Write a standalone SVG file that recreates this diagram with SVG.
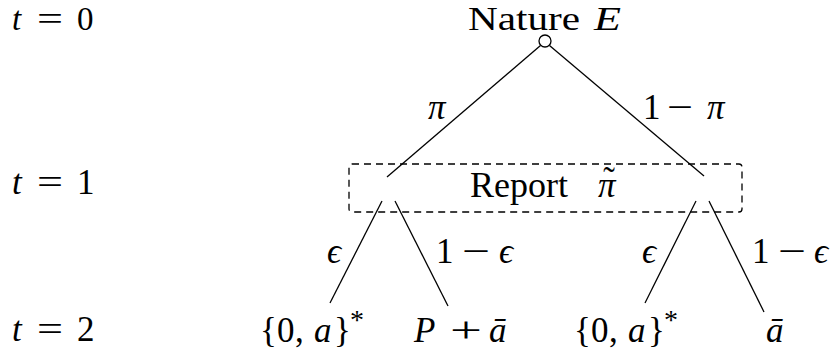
<svg xmlns="http://www.w3.org/2000/svg" width="832" height="360" viewBox="0 0 832 360">
<style>
text{font-family:"Liberation Serif","DejaVu Serif",serif;font-size:35px;fill:#000}
.top{font-size:33px}
.i{font-style:italic}
.e{stroke:#000;stroke-width:1.3;fill:none}
</style>
<rect width="832" height="360" fill="#fff"/>
<g id="time-labels">
<text y="30" class="top"><tspan x="12" class="i">t</tspan><tspan x="37" textLength="26" lengthAdjust="spacingAndGlyphs">=</tspan><tspan x="77">0</tspan></text>
<text y="194"><tspan x="12" class="i">t</tspan><tspan x="37" textLength="26" lengthAdjust="spacingAndGlyphs">=</tspan><tspan x="77">1</tspan></text>
<text y="341"><tspan x="12" class="i">t</tspan><tspan x="37" textLength="26" lengthAdjust="spacingAndGlyphs">=</tspan><tspan x="77">2</tspan></text>
</g>
<g id="connectors">
<line class="e" x1="540.5" y1="45.5" x2="387" y2="177"/>
<line class="e" x1="549.5" y1="45.5" x2="704" y2="176"/>
<line class="e" x1="382" y1="201" x2="330" y2="303"/>
<line class="e" x1="395" y1="201" x2="448" y2="306"/>
<line class="e" x1="696" y1="201" x2="645" y2="303"/>
<line class="e" x1="709" y1="201" x2="764" y2="312"/>
</g>
<g id="nature">
<circle cx="545" cy="41" r="6" fill="#fff" stroke="#000" stroke-width="1.3"/>
<text y="30" class="top"><tspan x="468" textLength="112" lengthAdjust="spacingAndGlyphs">Nature</tspan><tspan x="594" class="i" textLength="27" lengthAdjust="spacingAndGlyphs">E</tspan></text>
</g>
<g id="report">
<rect x="349" y="164" width="393" height="48" rx="3" fill="none" stroke="#000" stroke-width="1.3" stroke-dasharray="7,5"/>
<text y="197"><tspan x="470" textLength="98" lengthAdjust="spacingAndGlyphs">Report</tspan><tspan x="598" class="i">π</tspan></text>
<text x="609" y="192" text-anchor="middle" font-size="30">˜</text>
</g>
<g id="edge-labels">
<text x="428" y="119" class="i">π</text>
<text y="119"><tspan x="643">1</tspan><tspan x="667" textLength="26" lengthAdjust="spacingAndGlyphs">−</tspan><tspan x="707" class="i">π</tspan></text>
<text x="327" y="263" class="i">ϵ</text>
<text y="263"><tspan x="436">1</tspan><tspan x="462" textLength="28" lengthAdjust="spacingAndGlyphs">−</tspan><tspan x="499" class="i">ϵ</tspan></text>
<text x="642" y="263" class="i">ϵ</text>
<text y="263"><tspan x="752">1</tspan><tspan x="778" textLength="28" lengthAdjust="spacingAndGlyphs">−</tspan><tspan x="814" class="i">ϵ</tspan></text>
</g>
<g id="leaf-1"><text y="342"><tspan x="260">{</tspan><tspan x="277">0</tspan><tspan x="295">,</tspan><tspan x="314" class="i">a</tspan><tspan x="334">}</tspan><tspan x="350" dy="-13" font-size="28">*</tspan></text></g>
<g id="leaf-2"><text y="342"><tspan x="414" class="i">P</tspan><tspan x="450" textLength="32" lengthAdjust="spacingAndGlyphs">+</tspan><tspan x="489" class="i">ā</tspan></text></g>
<g id="leaf-3"><text y="342"><tspan x="574">{</tspan><tspan x="591">0</tspan><tspan x="609">,</tspan><tspan x="628" class="i">a</tspan><tspan x="648">}</tspan><tspan x="664" dy="-13" font-size="28">*</tspan></text></g>
<g id="leaf-4"><text x="766" y="342" class="i">ā</text></g>
</svg>
